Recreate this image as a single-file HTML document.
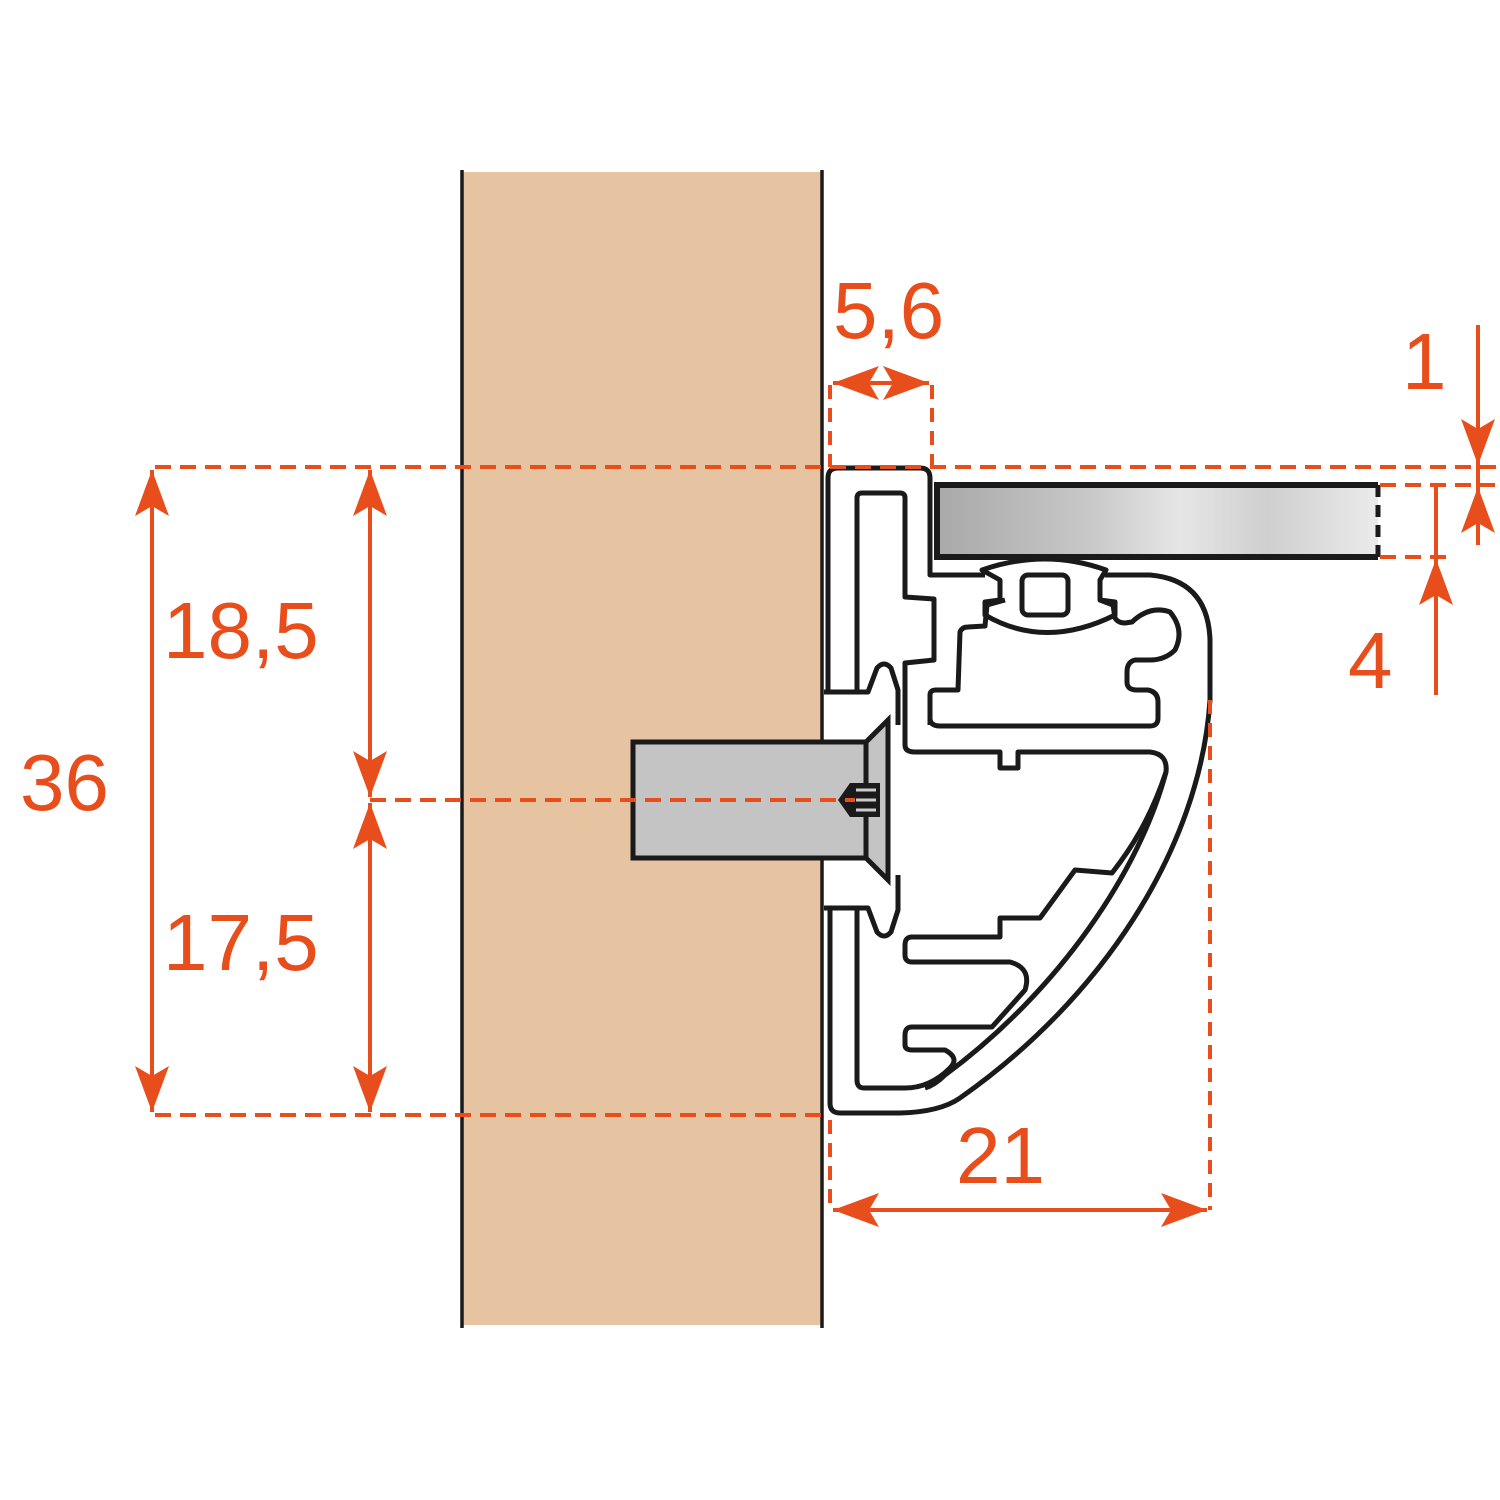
<!DOCTYPE html>
<html><head><meta charset="utf-8"><style>
html,body{margin:0;padding:0;background:#fff;}
svg{display:block}
text{font-family:"Liberation Sans",sans-serif;fill:#e84e1b;}
</style></head><body>
<svg width="1500" height="1500" viewBox="0 0 1500 1500" xmlns="http://www.w3.org/2000/svg">
<defs>
<linearGradient id="gl" x1="0" y1="0" x2="1" y2="0">
<stop offset="0" stop-color="#a9a9a9"/><stop offset="0.35" stop-color="#c8c8c8"/><stop offset="0.55" stop-color="#e6e6e6"/><stop offset="0.75" stop-color="#cfcfcf"/><stop offset="1" stop-color="#ebebeb"/>
</linearGradient>
<marker id="ah" viewBox="0 0 46 34" refX="46" refY="17" markerWidth="46" markerHeight="34" markerUnits="userSpaceOnUse" orient="auto-start-reverse">
<path d="M0,0 L46,17 L0,34 L10,17 Z" fill="#e84e1b"/>
</marker>
</defs>
<rect x="462" y="172" width="360" height="1153" fill="#e6c4a1"/>
<line x1="462" y1="170" x2="462" y2="1328" stroke="#1a1a1a" stroke-width="3.5"/>
<line x1="822" y1="170" x2="822" y2="1328" stroke="#1a1a1a" stroke-width="3.5"/>

<rect x="633" y="742" width="233" height="116" fill="#c4c4c4" stroke="#1a1a1a" stroke-width="5"/>
<path d="M866,742 L888,720 L888,880 L866,858 Z" fill="#c4c4c4" stroke="#1a1a1a" stroke-width="5"/>
<path d="M838,800 L850,783 L880,783 L880,817 L850,817 Z" fill="#1a1a1a"/>
<path d="M856,790 L876,790 M856,800 L876,800 M856,810 L876,810" stroke="#ccc" stroke-width="3"/>

<rect x="937" y="485" width="441" height="72" fill="url(#gl)"/>
<path d="M1378,485 L937,485 L937,557 L1378,557" fill="none" stroke="#1a1a1a" stroke-width="6"/>
<line x1="1378" y1="485" x2="1378" y2="557" stroke="#1a1a1a" stroke-width="5" stroke-dasharray="12,8"/>

<g fill="none" stroke="#1a1a1a" stroke-width="5" stroke-linejoin="round">
<path d="M828,692 L828,478 Q828,468 838,468 L920,468 Q930,468 930,478 L930,575 L985,575 M1105,575 L1150,575 Q1208,580 1210,640 L1210,700 C1200,850 1100,1000 960,1098 Q940,1112 900,1113 L840,1113 Q830,1113 830,1103 L830,908"/>
<path d="M982,570 Q1045,548 1106,570 L1100,580 L1100,600 L1115,602 L1115,615 Q1045,650 985,615 L985,602 L1000,600 L1000,580 Z"/>
<rect x="1022" y="575" width="46" height="40" rx="6"/>
<path d="M857,690 L857,498 Q857,493 862,493 L900,493 Q905,493 905,498 L905,597 L934,599 L934,660 L905,663 L905,745 Q905,752 915,752 L1000,752 L1000,768 L1018,768 L1018,752 L1150,752 Q1168,754 1166,772 C1150,820 1130,850 1112,873 L1075,870 L1040,918 L1000,918 L1000,937 L912,937 Q905,937 905,945 L905,955 Q905,962 912,962 L1010,962 Q1032,968 1025,990 L992,1027 L912,1027 Q905,1027 905,1035 L905,1045 Q905,1050 912,1050 L945,1050 Q960,1058 950,1068 Q930,1088 905,1088 L864,1088 Q857,1088 857,1080 L857,910"/>
<path d="M1166,772 C1140,870 1060,990 945,1075 Q935,1085 925,1088"/>
<path d="M930,725 L930,695 Q930,690 936,690 L958,690 L960,632 Q962,627 968,627 L985,626 L987,605 L1005,600 M1100,600 L1113,605 L1115,618 Q1118,623 1125,623 L1132,622 Q1150,605 1170,612 Q1185,630 1175,650 Q1165,660 1150,660 L1135,660 Q1127,662 1127,672 L1127,682 Q1127,690 1137,690 L1148,690 Q1158,692 1158,702 L1158,718 Q1158,726 1150,726 L940,726 Q930,726 930,718"/>
<path d="M824,692 L868,692 L877,668 Q884,660 891,668 L898,690 L898,725"/>
<path d="M824,908 L868,908 L877,932 Q884,940 891,932 L898,910 L898,875"/>
</g>

<g stroke="#e84e1b" stroke-width="4" fill="none">
<line x1="155" y1="467" x2="1500" y2="467" stroke-dasharray="16,9"/>
<line x1="155" y1="1115" x2="830" y2="1115" stroke-dasharray="16,9"/>
<line x1="370" y1="800" x2="855" y2="800" stroke-dasharray="16,9"/>
<line x1="1380" y1="485" x2="1495" y2="485" stroke-dasharray="16,9"/>
<line x1="1380" y1="557" x2="1450" y2="557" stroke-dasharray="16,9"/>
<line x1="830" y1="385" x2="830" y2="467" stroke-dasharray="14,9"/>
<line x1="932" y1="385" x2="932" y2="467" stroke-dasharray="14,9"/>
<line x1="1210" y1="700" x2="1210" y2="1210" stroke-dasharray="14,9"/>
<line x1="830" y1="1120" x2="830" y2="1210" stroke-dasharray="14,9"/>

<line x1="152" y1="470" x2="152" y2="1112" marker-start="url(#ah)" marker-end="url(#ah)"/>
<line x1="370" y1="470" x2="370" y2="797" marker-start="url(#ah)" marker-end="url(#ah)"/>
<line x1="370" y1="803" x2="370" y2="1112" marker-start="url(#ah)" marker-end="url(#ah)"/>
<line x1="833" y1="383" x2="881" y2="383" marker-start="url(#ah)"/>
<line x1="881" y1="383" x2="929" y2="383" marker-end="url(#ah)"/>
<line x1="833" y1="1210" x2="1207" y2="1210" marker-start="url(#ah)" marker-end="url(#ah)"/>
<line x1="1478" y1="325" x2="1478" y2="465" marker-end="url(#ah)"/>
<line x1="1478" y1="545" x2="1478" y2="487" marker-end="url(#ah)"/>
<line x1="1478" y1="465" x2="1478" y2="487"/>
<line x1="1436" y1="695" x2="1436" y2="559" marker-end="url(#ah)"/>
<line x1="1436" y1="485" x2="1436" y2="559"/>
</g>

<g font-size="80">
<text x="20" y="810">36</text>
<text x="163" y="658">18,5</text>
<text x="163" y="970">17,5</text>
<text x="833" y="338">5,6</text>
<text x="956" y="1183">21</text>
<text x="1402" y="389">1</text>
<text x="1348" y="688">4</text>
</g>
</svg>
</body></html>
